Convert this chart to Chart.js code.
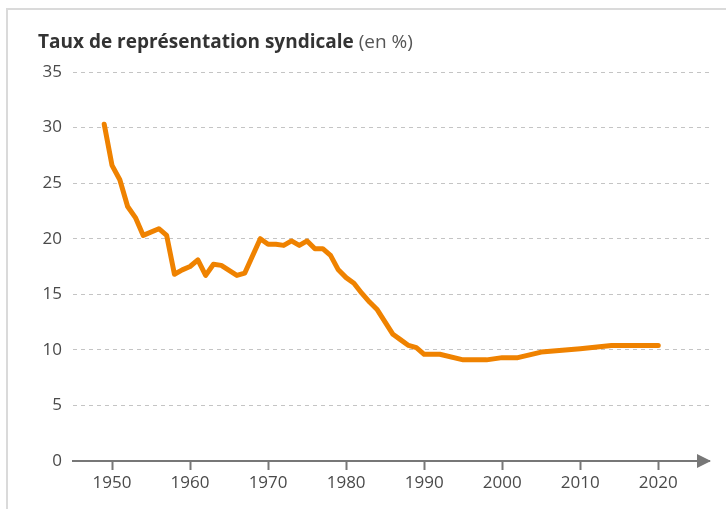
<!DOCTYPE html>
<html>
<head>
<meta charset="utf-8">
<script src="https://cdn.jsdelivr.net/npm/chart.js@4/dist/chart.umd.min.js"></script>
<style>
  html, body { margin:0; padding:0; background:#fff; }
  #wrap { position:relative; width:726px; height:509px; }
</style>
</head>
<body>
<div id="wrap"><canvas id="chart" width="726" height="509"></canvas></div>
<script>
const years = [1949,1950,1951,1952,1953,1954,1956,1957,1958,1959,1960,1961,1962,1963,1964,1966,1967,1969,1970,1971,1972,1973,1974,1975,1976,1977,1978,1979,1980,1981,1982,1983,1984,1985,1986,1987,1988,1989,1990,1992,1995,1998,2000,2002,2005,2010,2014,2020];
const rates = [30.3,26.6,25.3,22.9,21.9,20.3,20.9,20.3,16.8,17.2,17.5,18.1,16.7,17.7,17.6,16.7,16.9,20.0,19.5,19.5,19.4,19.8,19.4,19.8,19.1,19.1,18.5,17.2,16.5,16.0,15.1,14.3,13.6,12.5,11.4,10.9,10.4,10.2,9.6,9.6,9.1,9.1,9.3,9.3,9.8,10.1,10.4,10.4];
const xTicks = [1950,1960,1970,1980,1990,2000,2010,2020];
const yTicks = [0,5,10,15,20,25,30,35];
const titleBold = "Taux de représentation syndicale";
const titleRest = " (en %)";

const FONT = "'Open Sans', sans-serif";

/* === FRAME + TITLE + ARROW === */
const decor = {
  id: "decor",
  beforeDraw(chart){
    const c = chart.ctx;
    c.save();
    c.strokeStyle = "#dadada"; c.lineWidth = 2;
    c.beginPath(); c.moveTo(7, 509); c.lineTo(7, 9); c.lineTo(726, 9); c.stroke();
    c.restore();
  },
  afterDraw(chart){
    const c = chart.ctx, xs = chart.scales.x, y0 = chart.scales.y.getPixelForValue(0);
    c.save();
    c.textBaseline = "alphabetic";
    c.fillStyle = "#333";
    c.font = "bold 19px " + FONT;
    c.fillText(titleBold, 38, 48);
    const w = c.measureText(titleBold).width;
    c.fillStyle = "#555";
    c.font = "19px " + FONT;
    c.fillText(titleRest, 38 + w, 48);
    // axis arrow
    c.fillStyle = "#777";
    c.beginPath();
    c.moveTo(xs.right + 2, y0);
    c.lineTo(xs.right - 12, y0 - 7);
    c.lineTo(xs.right - 12, y0 + 7);
    c.closePath(); c.fill();
    c.restore();
  }
};

new Chart(document.getElementById("chart"), {
  type: "line",
  data: {
    datasets: [{
      data: years.map((yr, i) => ({x: yr, y: rates[i]})),
      borderColor: "#ef8200",
      borderWidth: 5,
      borderCapStyle: "round",
      borderJoinStyle: "round",
      pointRadius: 0,
      tension: 0,
      fill: false
    }]
  },
  options: {
    responsive: false,
    animation: false,
    layout: { padding: { left: 0, right: 17, top: 72, bottom: 0 } },
    plugins: { legend: { display: false }, tooltip: { enabled: false } },
    scales: {
      x: {
        type: "linear", min: 1945, max: 2026.5,
        afterBuildTicks: s => { s.ticks = xTicks.map(v => ({value: v})); },
        afterFit: s => { s.height = 48; },
        grid: { drawOnChartArea: false, drawTicks: true, tickLength: 9, tickColor: "#777", tickWidth: 2 },
        border: { display: true, color: "#777", width: 2 },
        ticks: { padding: 3, color: "#4a4a4a", font: { family: FONT, size: 17 }, maxRotation: 0, autoSkip: false,
                 callback: v => String(v) }
      },
      y: {
        min: 0, max: 35,
        afterBuildTicks: s => { s.ticks = yTicks.map(v => ({value: v})); },
        afterFit: s => { s.width = 73; },
        grid: { color: "#c4c4c4", lineWidth: 1, drawTicks: false },
        border: { display: false, dash: [4, 4] },
        ticks: { padding: 11, color: "#4a4a4a", font: { family: FONT, size: 17 } }
      }
    }
  },
  plugins: [decor]
});
</script>
</body>
</html>
